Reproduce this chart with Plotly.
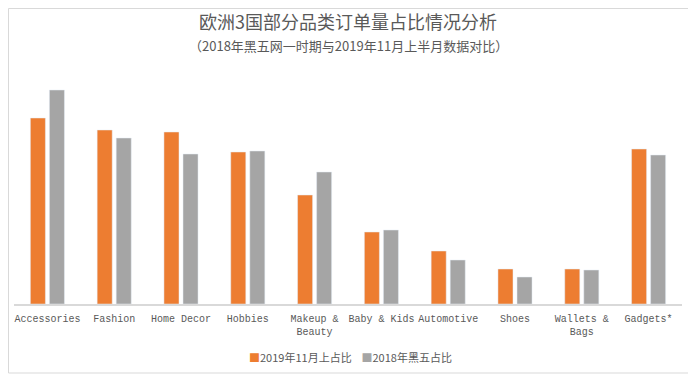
import plotly.graph_objects as go

categories = ["Accessories", "Fashion", "Home Decor", "Hobbies", "Makeup &<br>Beauty",
              "Baby & Kids", "Automotive", "Shoes", "Wallets &<br>Bags", "Gadgets*"]
share_2019 = [18.6, 17.4, 17.2, 15.2, 10.9, 7.2, 5.3, 3.5, 3.5, 15.5]
share_2018 = [21.4, 16.6, 15.0, 15.3, 13.2, 7.4, 4.4, 2.7, 3.4, 14.9]
series_names = ["2019年11月上占比", "2018年黑五占比"]
colors = ["#ED7D31", "#A5A5A5"]

W, H = 696, 376
OFF = 8  # page offset of the plot div
L, R, T, B = 14 - OFF, 14 + OFF, 70 - OFF, 72 + OFF
pw, ph = W - L - R, H - T - B

def px(x):
    return (x - OFF - L) / pw

def py(y):
    return (H - B - (y - OFF)) / ph

fig = go.Figure()
for name, vals, c in zip(series_names, [share_2019, share_2018], colors):
    fig.add_trace(go.Bar(x=categories, y=vals, name=name, marker_color=c, showlegend=False))

legend_text = ("<span style='color:%s'>■</span>%s&nbsp;&nbsp;&nbsp;&nbsp;"
               "<span style='color:%s'>■</span>%s") % (colors[0], series_names[0], colors[1], series_names[1])

fig.update_layout(
    width=W, height=H,
    margin=dict(l=L, r=R, t=T, b=B),
    paper_bgcolor="white", plot_bgcolor="white",
    barmode="group", bargap=0.43, bargroupgap=0.21,
    font=dict(family="Noto Sans CJK SC", color="#595959"),
    xaxis=dict(showline=True, linecolor="#d9d9d9", linewidth=1.5, showgrid=False,
               ticks="", tickfont=dict(family="Liberation Mono", size=10, color="#595959"),
               tickangle=0, fixedrange=True, ticklabelstandoff=4),
    yaxis=dict(visible=False, range=[0, ph / 10], showgrid=False, fixedrange=True),
    annotations=[
        dict(text="欧洲3国部分品类订单量占比情况分析", x=0.5, y=py(21), xref="paper", yref="paper",
             xanchor="center", yanchor="middle", showarrow=False,
             font=dict(family="Noto Sans CJK SC", size=18, color="#595959")),
        dict(text="（2018年黑五网一时期与2019年11月上半月数据对比）", x=0.5, y=py(46), xref="paper", yref="paper",
             xanchor="center", yanchor="middle", showarrow=False,
             font=dict(family="Noto Sans CJK SC", size=13, color="#595959")),
        dict(text=legend_text, x=px(350), y=py(357), xref="paper", yref="paper",
             xanchor="center", yanchor="middle", showarrow=False,
             font=dict(family="Noto Sans CJK SC", size=11, color="#595959")),
    ],
    shapes=[dict(type="rect", xref="paper", yref="paper",
                 x0=px(OFF + 0.5), x1=px(693), y0=py(373), y1=py(OFF + 0.5),
                 line=dict(color="#d9d9d9", width=1), fillcolor="rgba(0,0,0,0)", layer="below")],
)

fig.write_html("out.html")
